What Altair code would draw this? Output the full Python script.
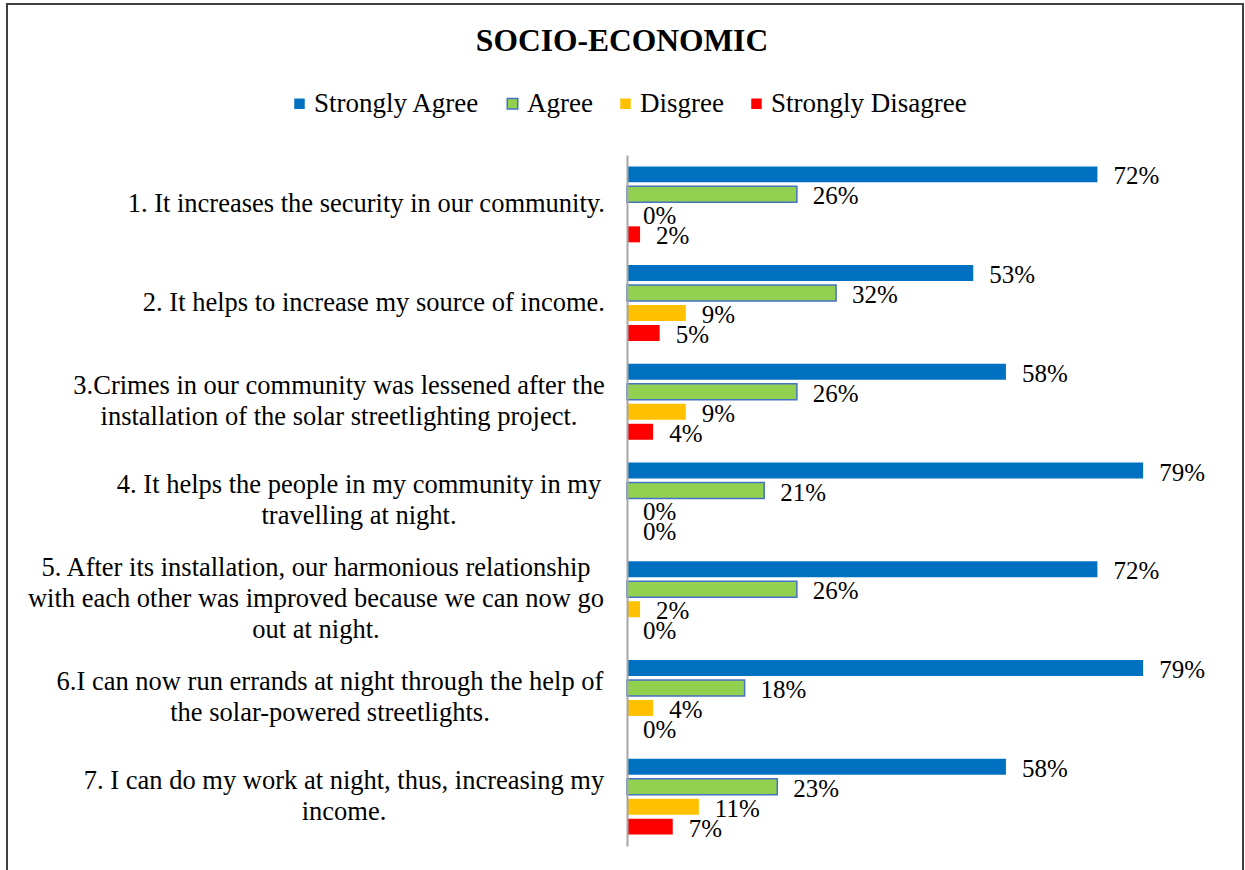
import altair as alt
import pandas as pd

questions = [
    "1. It increases the security in our community.",
    "2. It helps to increase my source of income.",
    "3.Crimes in our community was lessened after the|installation of the solar streetlighting project.",
    "4. It helps the people in my community in my|travelling at night.",
    "5. After its installation, our harmonious relationship|with each other was improved because we can now go|out at night.",
    "6.I can now run errands at night through the help of|the solar-powered streetlights.",
    "7. I can do my work at night, thus, increasing my|income.",
]
series = ["Strongly Agree", "Agree", "Disgree", "Strongly Disagree"]
strongly_agree = [0.72, 0.53, 0.58, 0.79, 0.72, 0.79, 0.58]
agree = [0.26, 0.32, 0.26, 0.21, 0.26, 0.18, 0.23]
disgree = [0.00, 0.09, 0.09, 0.00, 0.02, 0.04, 0.11]
strongly_disagree = [0.02, 0.05, 0.04, 0.00, 0.00, 0.00, 0.07]
fill_colors = ["#0070C0", "#92D050", "#FFC000", "#FF0000"]
stroke_colors = ["rgba(0,0,0,0)", "#4472C4", "rgba(0,0,0,0)", "rgba(0,0,0,0)"]

rows = []
for s, vals in zip(series, [strongly_agree, agree, disgree, strongly_disagree]):
    for q, v in zip(questions, vals):
        rows.append({"question": q, "series": s, "value": v})
df = pd.DataFrame(rows)
qdf = pd.DataFrame({"question": questions})

FONT = "Liberation Serif"

y_main = alt.Y(
    "question:N",
    sort=questions,
    scale=alt.Scale(paddingInner=0.19, paddingOuter=0.095),
    axis=alt.Axis(
        title=None,
        labels=False,
        ticks=False,
        domainColor="#A6A6A6",
        domainWidth=2,
        zindex=1,
    ),
)
y_plain = alt.Y("question:N", sort=questions)
yoff = alt.YOffset(
    "series:N", sort=series, scale=alt.Scale(paddingInner=0.2, paddingOuter=0.1)
)
x_enc = alt.X("value:Q", scale=alt.Scale(domain=[0, 0.9]), axis=None)

bars = alt.Chart(df).mark_bar(strokeWidth=1.5).encode(
    y=y_main,
    yOffset=yoff,
    x=x_enc,
    color=alt.Color(
        "series:N",
        sort=series,
        scale=alt.Scale(domain=series, range=fill_colors),
        legend=alt.Legend(
            title=None,
            orient="none",
            legendX=-341,
            legendY=-65,
            direction="horizontal",
            symbolType="square",
            symbolSize=110,
            symbolStrokeWidth=1.5,
            labelFont=FONT,
            labelFontSize=27,
            labelColor="black",
            labelLimit=0,
            labelOffset=1,
            columnPadding=19,
        ),
    ),
    stroke=alt.Stroke(
        "series:N",
        sort=series,
        scale=alt.Scale(domain=series, range=stroke_colors),
    ),
)

values = alt.Chart(df).mark_text(
    align="left", baseline="middle", dx=16, dy=2, font=FONT, fontSize=25, color="black"
).encode(
    y=y_plain,
    yOffset=alt.YOffset("series:N", sort=series),
    x=alt.X("value:Q"),
    text=alt.Text("value:Q", format=".0%"),
)


def cat_label(idx, align, xpos):
    n = questions[idx].count("|") + 1
    return (
        alt.Chart(qdf)
        .transform_filter(alt.FieldEqualPredicate(field="question", equal=questions[idx]))
        .transform_calculate(lines="split(datum.question, '|')")
        .mark_text(
            align=align,
            baseline="middle",
            dy=-15.5 * (n - 1),
            font=FONT,
            fontSize=26.5,
            lineHeight=31,
            color="black",
        )
        .encode(y=y_plain, x=alt.value(xpos), text=alt.Text("lines:N"))
    )


# label placement: single lines right-aligned next to the axis,
# wrapped labels centred line by line (as in the original)
label_layers = [
    cat_label(0, "right", -22),
    cat_label(1, "right", -22),
    cat_label(2, "center", -288),
    cat_label(3, "center", -268),
    cat_label(4, "center", -311),
    cat_label(5, "center", -297),
    cat_label(6, "center", -283),
]

frame = alt.Chart(alt.Data(values=[{"f": 1}])).mark_rect(
    filled=False, stroke="#404040", strokeWidth=2
).encode(
    x=alt.value(-620), x2=alt.value(616), y=alt.value(-151), y2=alt.value(760)
)

chart = alt.layer(bars, values, *label_layers, frame).properties(
    width=588,
    height=691,
    title=alt.TitleParams(
        "SOCIO-ECONOMIC",
        font=FONT,
        fontSize=31.5,
        fontWeight="bold",
        color="black",
        anchor="middle",
        frame="group",
        baseline="alphabetic",
        offset=0,
        dx=-299,
        dy=79,
    ),
    padding={"left": 627, "top": 155, "right": 30, "bottom": 24},
    autosize=alt.AutoSizeParams(type="none"),
).configure_view(stroke=None)

chart.save("out.html", embed_options={"renderer": "svg", "actions": False})
